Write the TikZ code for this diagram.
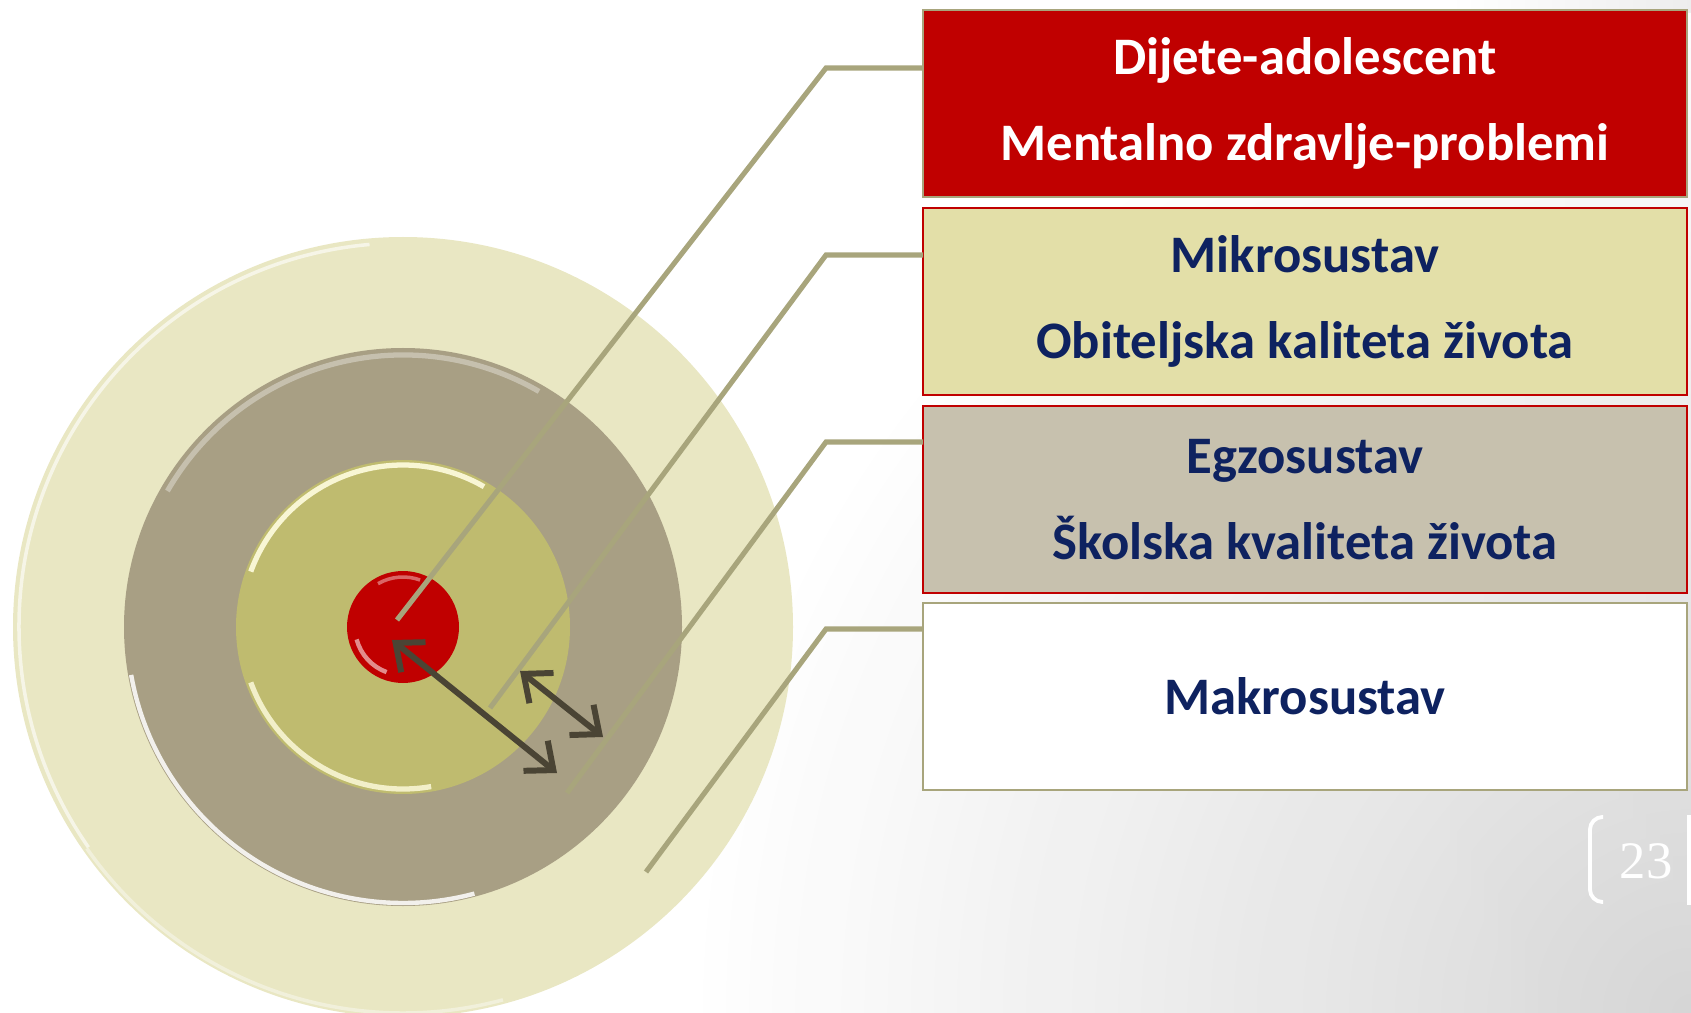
\documentclass[tikz,border=0pt]{standalone}
\usepackage{fontspec}
\setmainfont{Carlito}
\newfontfamily\brojfont{Liberation Serif}
\usepackage{tikz}
\usetikzlibrary{arrows.meta}
\usetikzlibrary{calc,positioning}

\definecolor{blijeda}{RGB}{233,231,195}
\definecolor{smeda}{RGB}{168,159,132}
\definecolor{maslina}{RGB}{191,187,111}
\definecolor{crvena}{RGB}{192,0,0}
\definecolor{linija}{RGB}{168,165,124}
\definecolor{strelica}{RGB}{74,68,52}
\definecolor{zuta}{RGB}{227,223,168}
\definecolor{siva}{RGB}{199,193,174}
\definecolor{plava}{RGB}{14,34,96}

\tikzset{
  kutija/.style={draw, line width=1.1pt, minimum width=15.28cm, minimum height=3.74cm,
    inner sep=0pt, outer sep=0pt, align=center, font=\fontsize{30}{49}\selectfont\bfseries},
  spoj/.style={linija, line width=2.9pt},
  dvosmjerna/.style={<->, strelica, line width=3.4pt},
  sjaj/.style={white, line width=2pt, opacity=0.7}
}

\begin{document}
\begin{tikzpicture}[x=0.02cm, y=-0.02cm, >={Straight Barb[length=13pt,width=22pt]}]
			\useasboundingbox (0,0) rectangle (1691,1013);
			% pozadina slajda
			\begin{scope}
			\clip (0,0) rectangle (1691,1013);
			\shade[left color=white, right color=black!7] (1450,0) rectangle (1691,1013);
			\shade[inner color=black!17, outer color=white, opacity=0.9] (1691,1013) circle (1000);
			\end{scope}

			% krugovi
			\coordinate (ctr) at (403,627);
			\fill[blijeda] (ctr) circle (390);
			\draw[sjaj, opacity=0.6] ([shift={(-95:384)}]ctr) arc[start angle=-95, end angle=-215, radius=384];
			\draw[sjaj, opacity=0.4] ([shift={(-215:386)}]ctr) arc[start angle=-215, end angle=-285, radius=386];
			\fill[smeda] (ctr) circle (279);
			\draw[sjaj, line width=3pt, opacity=0.35] ([shift={(-60:272)}]ctr) arc[start angle=-60, end angle=-150, radius=272];
			\draw[sjaj, line width=2.5pt, opacity=0.85] ([shift={(-190:276)}]ctr) arc[start angle=-190, end angle=-285, radius=276];
			\fill[maslina] (ctr) circle (167);
			\draw[sjaj, line width=3pt, color=yellow!12, opacity=0.9] ([shift={(-60:162)}]ctr) arc[start angle=-60, end angle=-160, radius=162];
			\draw[sjaj, line width=3pt, color=yellow!12, opacity=0.8] ([shift={(-200:162)}]ctr) arc[start angle=-200, end angle=-280, radius=162];
			\fill[crvena] (ctr) circle (56);
			\draw[sjaj, line width=2.5pt, opacity=0.55] ([shift={(-195:48)}]ctr) arc[start angle=-195, end angle=-250, radius=48];
			\draw[sjaj, line width=2pt, opacity=0.4] ([shift={(-70:50)}]ctr) arc[start angle=-70, end angle=-120, radius=50];

			% kutije
			\node[kutija, draw=linija, fill=crvena, text=white] (dijete) at (1305,103.5) {Dijete-adolescent\\Mentalno zdravlje-problemi};
			\node[kutija, draw=crvena, fill=zuta, text=plava] (mikro) at (1305,301.5) {Mikrosustav\\Obiteljska kaliteta života};
			\node[kutija, draw=crvena, fill=siva, text=plava] (egzo) at (1305,499.5) {Egzosustav\\Školska kvaliteta života};
			\node[kutija, draw=linija, fill=white, text=plava] (makro) at (1305,696.5) {Makrosustav};

			% spojnice
			\coordinate (p1) at (397,620);
			\coordinate (p2) at (490,708);
			\coordinate (p3) at (567,793);
			\coordinate (p4) at (646,872);
			\coordinate (k1) at (826,68);
			\coordinate (k2) at (826,255);
			\coordinate (k3) at (826,442);
			\coordinate (k4) at (826,629);
			\draw[spoj] (p1) -- (k1) -- (k1 -| dijete.west);
			\draw[spoj] (p2) -- (k2) -- (k2 -| mikro.west);
			\draw[spoj] (p3) -- (k3) -- (k3 -| egzo.west);
			\draw[spoj] (p4) -- (k4) -- (k4 -| makro.west);

			% strelice
			\coordinate (a1) at (392,640);
			\coordinate (b1) at (557,773);
			\coordinate (a2) at (520,671);
			\coordinate (b2) at (603,737);
			\draw[dvosmjerna] (a1) -- (b1);
			\draw[dvosmjerna] (a2) -- (b2);

			% broj slajda
			\draw[white, line width=2.2pt, rounded corners=0.25cm] (1603,817) -- (1590,817) -- (1590,902) -- (1603,902);
			\draw[white, line width=2.2pt] (1689,815) -- (1689,905);
			\node[text=white, font=\brojfont\fontsize{30}{30}\selectfont] (broj) at (1646,861) {23};
			\end{tikzpicture}
\end{document}
